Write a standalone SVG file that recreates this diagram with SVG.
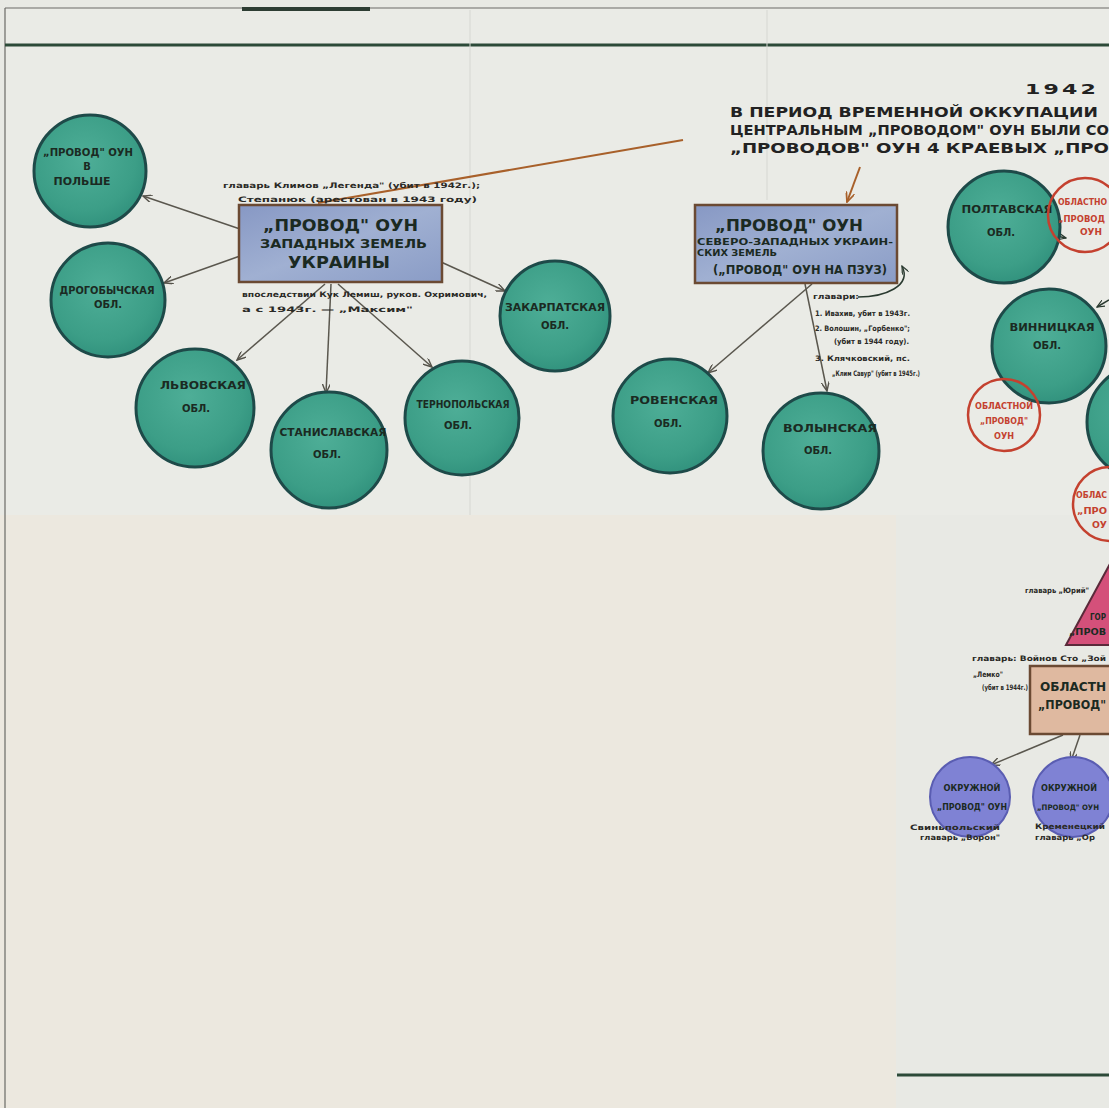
<svg xmlns="http://www.w3.org/2000/svg" width="1109" height="1108" viewBox="0 0 1109 1108">
<defs>
<radialGradient id="teal" cx="45%" cy="40%" r="65%">
<stop offset="0" stop-color="#4eae97"/>
<stop offset="0.7" stop-color="#3c9e87"/>
<stop offset="1" stop-color="#2f8f7b"/>
</radialGradient>
<linearGradient id="bluebox" x1="0" y1="0" x2="1" y2="1">
<stop offset="0" stop-color="#8798c4"/>
<stop offset="0.5" stop-color="#a0b0d2"/>
<stop offset="1" stop-color="#8a9cc6"/>
</linearGradient>
<marker id="arr" viewBox="0 0 10 8" refX="9" refY="4" markerWidth="10" markerHeight="8" markerUnits="userSpaceOnUse" orient="auto">
<path d="M0,0 L9,4 L0,8" fill="none" stroke="#55524a" stroke-width="1.4"/>
</marker>
<marker id="arrO" viewBox="0 0 10 8" refX="9" refY="4" markerWidth="11" markerHeight="9" markerUnits="userSpaceOnUse" orient="auto">
<path d="M0,0 L9,4 L0,8" fill="none" stroke="#a8602a" stroke-width="1.6"/>
</marker>
<marker id="arrD" viewBox="0 0 10 8" refX="9" refY="4" markerWidth="9" markerHeight="7" markerUnits="userSpaceOnUse" orient="auto">
<path d="M0,0 L9,4 L0,8" fill="none" stroke="#2a3a30" stroke-width="1.4"/>
</marker>
<style>
.obl{fill:url(#teal);stroke:#1e4a49;stroke-width:3}
.red{fill:none;stroke:#c4412f;stroke-width:2.5}
.box{fill:url(#bluebox);stroke:#6b4a33;stroke-width:2.5}
.t{font-family:"DejaVu Sans","Liberation Sans",sans-serif;font-weight:bold;fill:#1b2a22}
.c{font-size:10px;text-anchor:middle}
.b{font-size:16px}
.s{font-family:"DejaVu Sans Condensed","DejaVu Sans",sans-serif;font-size:7.5px;fill:#2a2a26;font-weight:bold}
.r{font-family:"DejaVu Sans",sans-serif;font-weight:bold;font-size:8px;fill:#c4412f}
.con{stroke:#5a574e;stroke-width:1.5;fill:none;marker-end:url(#arr)}
.h{font-family:"DejaVu Sans","Liberation Sans",sans-serif;font-weight:bold;fill:#222;font-size:14px}
</style>
</defs>
<rect x="0" y="0" width="1109" height="1108" fill="#e8e9e4"/>
<rect x="5" y="8" width="1104" height="507" fill="#eaebe6"/>
<rect x="0" y="515" width="896" height="593" fill="#ece8df"/>
<g id="frame">
<line x1="5" y1="8" x2="1109" y2="8" stroke="#6a6a66" stroke-width="1.2"/>
<line x1="242" y1="9" x2="370" y2="9" stroke="#2d3d33" stroke-width="4"/>
<line x1="5" y1="8" x2="5" y2="1108" stroke="#6a6a66" stroke-width="1.2"/>
<line x1="5" y1="45" x2="1109" y2="45" stroke="#2c4a38" stroke-width="3"/>
<line x1="470" y1="10" x2="470" y2="515" stroke="#d6d7d2" stroke-width="1"/>
<line x1="767" y1="10" x2="767" y2="200" stroke="#d6d7d2" stroke-width="1"/>
<line x1="897" y1="1075" x2="1109" y2="1075" stroke="#2c4a38" stroke-width="3"/>
</g>
<g id="title">
<text class="h" x="1025" y="94" font-size="19" textLength="74" lengthAdjust="spacingAndGlyphs" letter-spacing="2">1942</text>
<text class="h" x="730" y="117" textLength="368" lengthAdjust="spacingAndGlyphs">В ПЕРИОД  ВРЕМЕННОЙ ОККУПАЦИИ</text>
<text class="h" x="730" y="135" textLength="379" lengthAdjust="spacingAndGlyphs">ЦЕНТРАЛЬНЫМ „ПРОВОДОМ" ОУН БЫЛИ СО</text>
<text class="h" x="730" y="153" textLength="379" lengthAdjust="spacingAndGlyphs">„ПРОВОДОВ" ОУН 4 КРАЕВЫХ „ПРО</text>
</g>
<g id="connectors">
<line class="con" x1="240" y1="229" x2="143" y2="196"/>
<line class="con" x1="240" y1="256" x2="164" y2="283"/>
<line class="con" x1="325" y1="284" x2="237" y2="360"/>
<line class="con" x1="331" y1="284" x2="326" y2="393"/>
<line class="con" x1="338" y1="284" x2="432" y2="367"/>
<line class="con" x1="441" y1="262" x2="505" y2="291"/>
<line class="con" x1="812" y1="284" x2="708" y2="373"/>
<line class="con" x1="805" y1="284" x2="827" y2="391"/>
<line x1="683" y1="140" x2="318" y2="203" stroke="#a8602a" stroke-width="2"/>
<line x1="860" y1="167" x2="847" y2="202" stroke="#a8602a" stroke-width="2" marker-end="url(#arrO)"/>
<path d="M858 297 C885 297 912 286 902 266" stroke="#2a3a30" stroke-width="1.5" fill="none" marker-end="url(#arrD)"/>
<line x1="1052" y1="235" x2="1066" y2="238" stroke="#2a3a30" stroke-width="1.5" marker-end="url(#arrD)"/>
<line x1="1109" y1="300" x2="1097" y2="307" stroke="#2a3a30" stroke-width="1.5" marker-end="url(#arrD)"/>
<line class="con" x1="1063" y1="735" x2="991" y2="765"/>
<line class="con" x1="1080" y1="735" x2="1071" y2="761"/>
</g>
<g id="n-polsha"><circle class="obl" cx="90" cy="171" r="56"/>
<text class="t c" x="88" y="156" textLength="90" lengthAdjust="spacingAndGlyphs">„ПРОВОД" ОУН</text>
<text class="t c" x="87" y="170">В</text>
<text class="t c" x="82" y="185" textLength="57" lengthAdjust="spacingAndGlyphs">ПОЛЬШЕ</text></g>
<g id="n-drogobych"><circle class="obl" cx="108" cy="300" r="57"/>
<text class="t c" x="107" y="294" textLength="95" lengthAdjust="spacingAndGlyphs" font-size="9">ДРОГОБЫЧСКАЯ</text>
<text class="t c" x="108" y="308" font-size="9">ОБЛ.</text></g>
<g id="n-zuz"><rect class="box" x="239" y="205" width="203" height="77"/>
<text class="t b" x="263" y="231" textLength="155" lengthAdjust="spacingAndGlyphs">„ПРОВОД" ОУН</text>
<text class="t" x="260" y="248" font-size="13" textLength="167" lengthAdjust="spacingAndGlyphs">ЗАПАДНЫХ ЗЕМЕЛЬ</text>
<text class="t" x="288" y="268" font-size="15" textLength="102" lengthAdjust="spacingAndGlyphs">УКРАИНЫ</text></g>
<text class="s" x="223" y="188" textLength="257" lengthAdjust="spacingAndGlyphs">главарь Климов „Легенда" (убит в 1942г.);</text>
<text class="s" x="238" y="202" textLength="239" lengthAdjust="spacingAndGlyphs">Степанюк (арестован в 1943 году)</text>
<text class="s" x="242" y="297" textLength="245" lengthAdjust="spacingAndGlyphs">впоследствии Кук Лемиш, руков. Охримович,</text>
<text class="s" x="242" y="312" textLength="171" lengthAdjust="spacingAndGlyphs">а с 1943г. — „Максим"</text>
<g id="n-lvov"><circle class="obl" cx="195" cy="408" r="59"/>
<text class="t c" x="203" y="389" textLength="86" lengthAdjust="spacingAndGlyphs">ЛЬВОВСКАЯ</text>
<text class="t c" x="196" y="412">ОБЛ.</text></g>
<g id="n-stanislav"><circle class="obl" cx="329" cy="450" r="58"/>
<text class="t c" x="333" y="436" textLength="107" lengthAdjust="spacingAndGlyphs">СТАНИСЛАВСКАЯ</text>
<text class="t c" x="327" y="458">ОБЛ.</text></g>
<g id="n-ternopol"><circle class="obl" cx="462" cy="418" r="57"/>
<text class="t c" x="463" y="408" textLength="93" lengthAdjust="spacingAndGlyphs">ТЕРНОПОЛЬСКАЯ</text>
<text class="t c" x="458" y="429">ОБЛ.</text></g>
<g id="n-zakarpat"><circle class="obl" cx="555" cy="316" r="55"/>
<text class="t c" x="555" y="311" textLength="100" lengthAdjust="spacingAndGlyphs" font-size="9.5">ЗАКАРПАТСКАЯ</text>
<text class="t c" x="555" y="329" font-size="9">ОБЛ.</text></g>
<g id="n-pzuz"><rect class="box" x="695" y="205" width="202" height="78"/>
<text class="t b" x="715" y="231" textLength="148" lengthAdjust="spacingAndGlyphs">„ПРОВОД" ОУН</text>
<text class="t" x="697" y="245" font-size="9.5" textLength="196" lengthAdjust="spacingAndGlyphs">СЕВЕРО-ЗАПАДНЫХ УКРАИН-</text>
<text class="t" x="697" y="256" font-size="9.5" textLength="80" lengthAdjust="spacingAndGlyphs">СКИХ ЗЕМЕЛЬ</text>
<text class="t" x="713" y="274" font-size="12" textLength="174" lengthAdjust="spacingAndGlyphs">(„ПРОВОД" ОУН НА ПЗУЗ)</text></g>
<text class="s" x="813" y="299" textLength="46" lengthAdjust="spacingAndGlyphs">главари:</text>
<text class="s" x="815" y="316" textLength="95" lengthAdjust="spacingAndGlyphs">1. Ивахив, убит в 1943г.</text>
<text class="s" x="815" y="331" textLength="95" lengthAdjust="spacingAndGlyphs">2. Волошин, „Горбенко";</text>
<text class="s" x="834" y="344" textLength="75" lengthAdjust="spacingAndGlyphs">(убит в 1944 году).</text>
<text class="s" x="815" y="361" textLength="95" lengthAdjust="spacingAndGlyphs">3. Клячковский, пс.</text>
<text class="s" x="832" y="376" textLength="88" lengthAdjust="spacingAndGlyphs">„Клим Савур" (убит в 1945г.)</text>
<g id="n-rovno"><circle class="obl" cx="670" cy="416" r="57"/>
<text class="t c" x="674" y="404" textLength="88" lengthAdjust="spacingAndGlyphs">РОВЕНСКАЯ</text>
<text class="t c" x="668" y="427">ОБЛ.</text></g>
<g id="n-volyn"><circle class="obl" cx="821" cy="451" r="58"/>
<text class="t c" x="830" y="432" textLength="94" lengthAdjust="spacingAndGlyphs">ВОЛЫНСКАЯ</text>
<text class="t c" x="818" y="454">ОБЛ.</text></g>
<g id="n-poltava"><circle class="obl" cx="1004" cy="227" r="56"/>
<text class="t c" x="1007" y="213" textLength="91" lengthAdjust="spacingAndGlyphs">ПОЛТАВСКАЯ</text>
<text class="t c" x="1001" y="236">ОБЛ.</text></g>
<g id="n-oblprovod1"><circle class="red" cx="1085" cy="215" r="37"/>
<text class="r" x="1058" y="205" textLength="49" lengthAdjust="spacingAndGlyphs">ОБЛАСТНО</text>
<text class="r" x="1058" y="222" textLength="47" lengthAdjust="spacingAndGlyphs">„ПРОВОД</text>
<text class="r" x="1080" y="235" textLength="22" lengthAdjust="spacingAndGlyphs">ОУН</text></g>
<g id="n-vinnitsa"><circle class="obl" cx="1049" cy="346" r="57"/>
<text class="t c" x="1052" y="331" textLength="85" lengthAdjust="spacingAndGlyphs">ВИННИЦКАЯ</text>
<text class="t c" x="1047" y="349">ОБЛ.</text></g>
<g id="n-oblprovod2"><circle class="red" cx="1004" cy="415" r="36"/>
<text class="r" x="1004" y="409" text-anchor="middle" textLength="58" lengthAdjust="spacingAndGlyphs">ОБЛАСТНОЙ</text>
<text class="r" x="1004" y="424" text-anchor="middle" textLength="48" lengthAdjust="spacingAndGlyphs">„ПРОВОД"</text>
<text class="r" x="1004" y="439" text-anchor="middle" textLength="20" lengthAdjust="spacingAndGlyphs">ОУН</text></g>
<g id="n-obl3"><circle class="obl" cx="1145" cy="422" r="58"/></g>
<g id="n-oblprovod3"><circle class="red" cx="1110" cy="504" r="37"/>
<text class="r" x="1076" y="498" textLength="31" lengthAdjust="spacingAndGlyphs">ОБЛАС</text>
<text class="r" x="1077" y="514" textLength="30" lengthAdjust="spacingAndGlyphs">„ПРО</text>
<text class="r" x="1092" y="528" textLength="15" lengthAdjust="spacingAndGlyphs">ОУ</text></g>
<g id="n-gorod"><polygon points="1066,645 1112,560 1160,645" fill="#d4507a" stroke="#5a2a3a" stroke-width="2"/>
<text class="t" x="1090" y="620" font-size="9" textLength="16" lengthAdjust="spacingAndGlyphs">ГОР</text>
<text class="t" x="1069" y="635" font-size="9" textLength="37" lengthAdjust="spacingAndGlyphs">„ПРОВ</text></g>
<text class="s" x="1025" y="593" textLength="64" lengthAdjust="spacingAndGlyphs">главарь „Юрий"</text>
<g id="n-oblast"><rect x="1030" y="666" width="90" height="68" fill="#dfb9a0" stroke="#6b4a33" stroke-width="2.5"/>
<text class="t" x="1040" y="691" font-size="12" textLength="66" lengthAdjust="spacingAndGlyphs">ОБЛАСТН</text>
<text class="t" x="1038" y="709" font-size="12" textLength="68" lengthAdjust="spacingAndGlyphs">„ПРОВОД"</text></g>
<text class="s" x="972" y="661" textLength="134" lengthAdjust="spacingAndGlyphs">главарь: Войнов Сто „Зой</text>
<text class="s" x="973" y="677" textLength="30" lengthAdjust="spacingAndGlyphs">„Лемко"</text>
<text class="s" x="982" y="690" textLength="46" lengthAdjust="spacingAndGlyphs">(убит в 1944г.)</text>
<g id="n-okrug1"><circle cx="970" cy="797" r="40" fill="#7f82d4" stroke="#5a5db2" stroke-width="2"/>
<text class="t" x="972" y="791" font-size="9" text-anchor="middle" textLength="57" lengthAdjust="spacingAndGlyphs">ОКРУЖНОЙ</text>
<text class="t" x="972" y="810" font-size="9" text-anchor="middle" textLength="70" lengthAdjust="spacingAndGlyphs">„ПРОВОД" ОУН</text></g>
<text class="s" x="910" y="830" textLength="90" lengthAdjust="spacingAndGlyphs">Свиньпольский</text>
<text class="s" x="920" y="840" textLength="80" lengthAdjust="spacingAndGlyphs">главарь „Ворон"</text>
<g id="n-okrug2"><circle cx="1073" cy="797" r="40" fill="#7f82d4" stroke="#5a5db2" stroke-width="2"/>
<text class="t" x="1041" y="791" font-size="9" textLength="56" lengthAdjust="spacingAndGlyphs">ОКРУЖНОЙ</text>
<text class="t" x="1037" y="810" font-size="7.5" textLength="62" lengthAdjust="spacingAndGlyphs">„ПРОВОД" ОУН</text></g>
<text class="s" x="1035" y="829" textLength="70" lengthAdjust="spacingAndGlyphs">Кременецкий</text>
<text class="s" x="1035" y="840" textLength="60" lengthAdjust="spacingAndGlyphs">главарь „Ор</text>
</svg>
